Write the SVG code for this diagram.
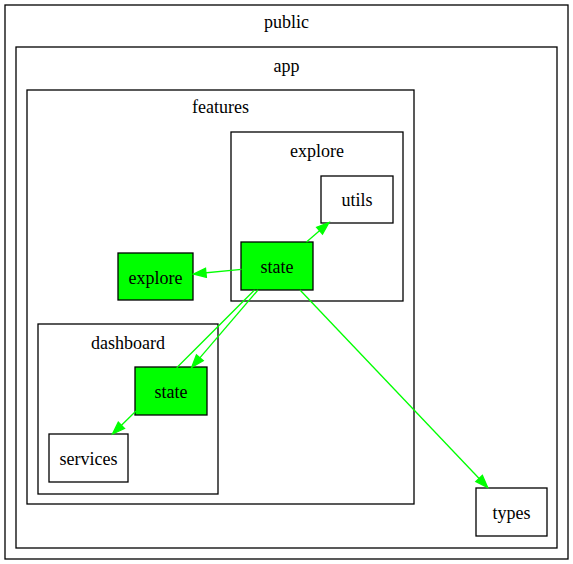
<svg xmlns="http://www.w3.org/2000/svg" width="573" height="564" viewBox="0 0 573 564">
<style>
.cl{fill:none;stroke:#000;stroke-width:1.3}
.nd{fill:#fff;stroke:#000;stroke-width:1.3}
.gr{fill:#00ff00;stroke:#000;stroke-width:1.3}
text{font-family:'Liberation Serif','Times New Roman',Tinos,'DejaVu Serif',serif;font-size:18px;text-anchor:middle;fill:#000}
.ed{fill:none;stroke:#00ff00;stroke-width:1.3}
</style>
<defs>
<marker id="ah" markerUnits="userSpaceOnUse" markerWidth="14" markerHeight="12" refX="12.5" refY="4.5" orient="auto" overflow="visible">
<polygon points="0,0 12.5,4.5 0,9" fill="#00ff00" stroke="#00ff00" stroke-width="1.3"/>
</marker>
</defs>
<rect width="573" height="564" fill="#fff"/>
<g id="cluster_public"><rect class="cl" x="5" y="5" width="563" height="554"/><text x="286.5" y="28">public</text></g>
<g id="cluster_app"><rect class="cl" x="16" y="47" width="541" height="501"/><text x="286.5" y="72">app</text></g>
<g id="cluster_features"><rect class="cl" x="27" y="90" width="387" height="414"/><text x="220.5" y="113">features</text></g>
<g id="cluster_explore"><rect class="cl" x="231" y="132" width="172" height="169"/><text x="317" y="157">explore</text></g>
<g id="cluster_dashboard"><rect class="cl" x="38" y="324" width="180" height="170"/><text x="128" y="349">dashboard</text></g>
<g id="node_utils"><rect class="nd" x="321" y="176" width="72" height="47"/><text x="357" y="206">utils</text></g>
<g id="node_explore_state"><rect class="gr" x="241" y="242" width="72" height="48"/><text x="277" y="273">state</text></g>
<g id="node_explore"><rect class="gr" x="118" y="253" width="75" height="47"/><text x="155.5" y="284">explore</text></g>
<g id="node_dashboard_state"><rect class="gr" x="135" y="367" width="72" height="48"/><text x="171" y="398">state</text></g>
<g id="node_services"><rect class="nd" x="49" y="434" width="79" height="48"/><text x="88.5" y="465">services</text></g>
<g id="node_types"><rect class="nd" x="476" y="488" width="71" height="48"/><text x="511.5" y="519">types</text></g>
<g id="connectors">
<path class="ed" d="M306.5,242 L329,222.5" marker-end="url(#ah)"/>
<path class="ed" d="M241.5,269.3 L193.5,274" marker-end="url(#ah)"/>
<path class="ed" d="M258,290 L191.7,367.3" marker-end="url(#ah)"/>
<path class="ed" d="M254.5,290 L176.7,367.7"/>
<path class="ed" d="M136,411 L112.5,434" marker-end="url(#ah)"/>
<path class="ed" d="M300,290 L487.7,487.5" marker-end="url(#ah)"/>
</g>
</svg>
